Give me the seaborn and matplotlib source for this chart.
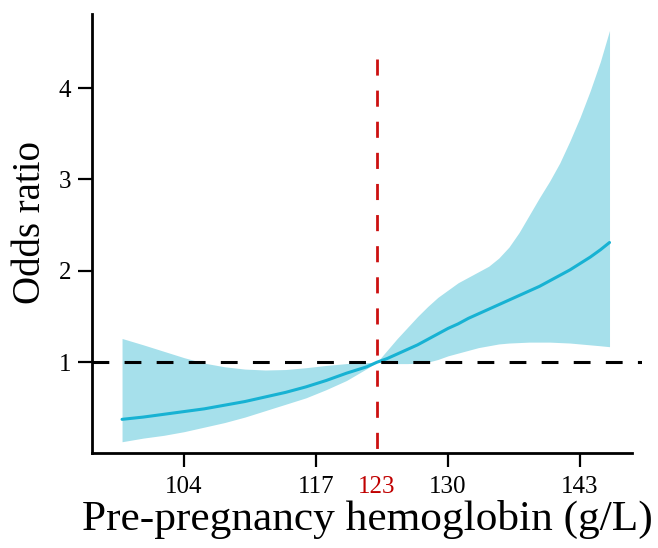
import matplotlib
matplotlib.use("Agg")
import matplotlib.pyplot as plt
import seaborn as sns
import pandas as pd

# values
hb = [97.9, 100, 102, 104, 106, 108, 110, 112, 114, 116, 118, 120, 122,
      123, 124, 125, 126, 127, 128, 129, 130, 131, 132, 133, 134, 135, 136,
      137, 138, 139, 140, 141, 142, 143, 144, 145, 145.9]
odds = [0.375, 0.40, 0.43, 0.46, 0.49, 0.53, 0.57, 0.62, 0.67, 0.73, 0.80, 0.88, 0.95,
        1.0, 1.04, 1.09, 1.14, 1.19, 1.25, 1.31, 1.37, 1.42, 1.48, 1.53, 1.58, 1.63, 1.68,
        1.73, 1.78, 1.83, 1.89, 1.95, 2.01, 2.08, 2.15, 2.23, 2.31]
upper = [1.26, 1.19, 1.12, 1.05, 0.99, 0.95, 0.925, 0.915, 0.92, 0.94, 0.965, 0.985, 0.995,
         1.0, 1.13, 1.26, 1.38, 1.50, 1.61, 1.71, 1.79, 1.87, 1.93, 1.99, 2.05, 2.14, 2.26,
         2.42, 2.61, 2.80, 2.98, 3.18, 3.42, 3.68, 3.97, 4.29, 4.63]
lower = [0.13, 0.17, 0.20, 0.24, 0.29, 0.34, 0.40, 0.47, 0.54, 0.61, 0.70, 0.80, 0.93,
         1.0, 0.99, 0.985, 0.985, 0.99, 1.0, 1.03, 1.07, 1.10, 1.13, 1.16, 1.18, 1.20, 1.21,
         1.215, 1.22, 1.22, 1.22, 1.215, 1.21, 1.20, 1.19, 1.18, 1.17]
x_ticks = [104, 117, 123, 130, 143]
y_ticks = [1, 2, 3, 4]
knot = 123

df = pd.DataFrame({"hb": hb, "odds": odds, "upper": upper, "lower": lower})

sns.set_style("ticks")
plt.rcParams["font.family"] = ["Liberation Serif", "DejaVu Serif"]
plt.rcParams["text.color"] = "black"
plt.rcParams["axes.labelcolor"] = "black"

fig = plt.figure(figsize=(6.58, 5.48), dpi=100)
ax = fig.add_axes([0.1398, 0.1739, 0.8359, 0.8005])

ax.fill_between(df["hb"], df["lower"], df["upper"], color="#a6e0eb", linewidth=0)
sns.lineplot(data=df, x="hb", y="odds", ax=ax, color="#17b2d3", linewidth=2.2)

xmin, xmax = 94.94, 149.1
ymin, ymax = 0.01, 4.81
ax.axhline(1, color="black", linestyle=(0, (5.5, 5)), linewidth=2.2)
# draw the reference line from the top down so the dash pattern starts at the top
ax.plot([knot, knot], [4.32, ymin], color="#cc1010", linestyle=(0, (5.8, 5.4)),
        linewidth=2.0)

ax.set_xlim(xmin, xmax)
ax.set_ylim(ymin, ymax)
ax.spines["top"].set_visible(False)
ax.spines["right"].set_visible(False)
ax.spines["bottom"].set_bounds(xmin, 148.1)
for s in ("left", "bottom"):
    ax.spines[s].set_linewidth(2.0)
    ax.spines[s].set_color("black")

ax.set_xticks(x_ticks)
ax.set_xticklabels([str(t) for t in x_ticks])
ax.set_yticks(y_ticks)
ax.tick_params(axis="both", direction="out", length=10, width=1.6, labelsize=18,
               colors="black", labelcolor="black")
ax.tick_params(axis="x", pad=7)
ax.tick_params(axis="y", pad=5)
for t, lab in zip(ax.xaxis.get_major_ticks(), x_ticks):
    if lab == knot:
        t.tick1line.set_visible(False)
        t.label1.set_color("#c00000")

ax.set_xlabel("Pre-pregnancy hemoglobin (g/L)", fontsize=31.2, labelpad=1)
ax.set_ylabel("Odds ratio", fontsize=28, labelpad=7)
ax.yaxis.label.set_y(0.525)

fig.savefig("out.png", dpi=100)
